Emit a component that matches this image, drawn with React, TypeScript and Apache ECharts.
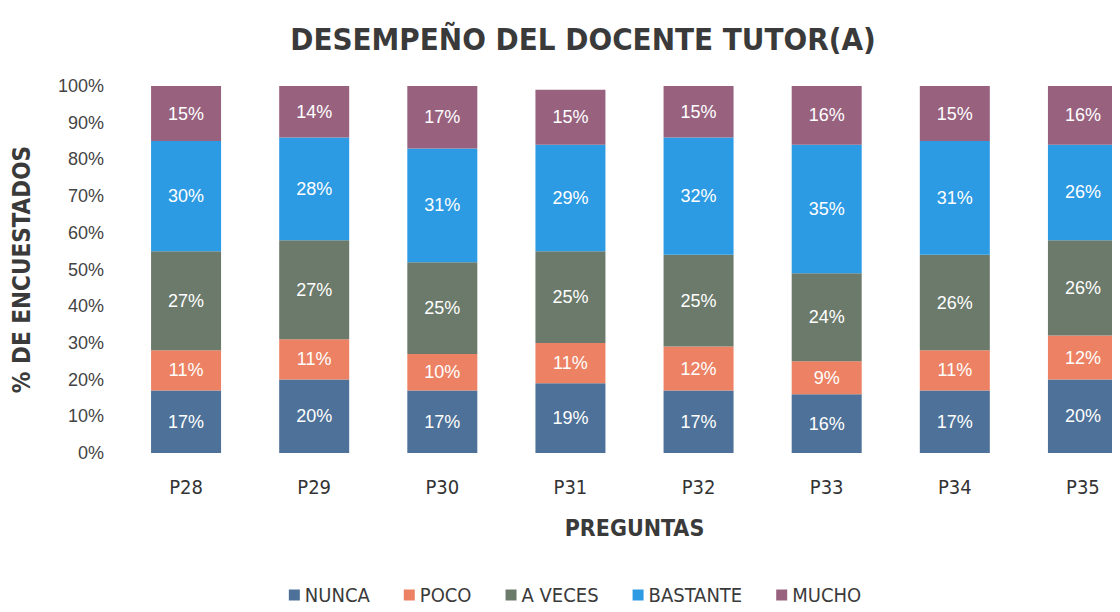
import React, { useEffect, useRef } from "react";
import * as echarts from "echarts";

const categories = ["P28", "P29", "P30", "P31", "P32", "P33", "P34", "P35"];
const nunca = [17, 20, 17, 19, 17, 16, 17, 20];
const poco = [11, 11, 10, 11, 12, 9, 11, 12];
const aveces = [27, 27, 25, 25, 25, 24, 26, 26];
const bastante = [30, 28, 31, 29, 32, 35, 31, 26];
const mucho = [15, 14, 17, 15, 15, 16, 15, 16];

const seriesDefs = [
  { name: "NUNCA", data: nunca, color: "#4d7198" },
  { name: "POCO", data: poco, color: "#ec8263" },
  { name: "A VECES", data: aveces, color: "#6b7a6b" },
  { name: "BASTANTE", data: bastante, color: "#2d9be3" },
  { name: "MUCHO", data: mucho, color: "#98627f" },
];

const COND = "'DejaVu Sans Condensed', 'Liberation Sans', sans-serif";
const SANS = "'Liberation Sans', Arial, sans-serif";

export default function App() {
  const ref = useRef<HTMLDivElement>(null);
  useEffect(() => {
    if (!ref.current) return;
    const chart = echarts.init(ref.current, null, { renderer: "svg" });
    chart.setOption({
      animation: false,
      backgroundColor: "#ffffff",
      title: {
        text: "DESEMPEÑO DEL DOCENTE TUTOR(A)",
        left: 578,
        top: 18,
        textAlign: "center",
        textStyle: {
          fontFamily: COND,
          fontWeight: "bold",
          fontSize: 31,
          color: "#3a3a3a",
        },
      },
      legend: {
        bottom: 40,
        left: "center",
        itemWidth: 11,
        itemHeight: 11,
        itemGap: 34,
        icon: "rect",
        textStyle: {
          fontFamily: COND,
          fontSize: 20,
          color: "#3a3a3a",
        },
      },
      grid: {
        left: 122,
        width: 1025,
        top: 86,
        height: 367,
        containLabel: false,
      },
      xAxis: {
        type: "category",
        data: categories,
        axisLine: { show: false },
        axisTick: { show: false },
        axisLabel: {
          margin: 24,
          fontFamily: COND,
          fontSize: 20,
          color: "#333",
        },
        name: "PREGUNTAS",
        nameLocation: "middle",
        nameGap: 63,
        nameTextStyle: {
          fontFamily: COND,
          fontWeight: "bold",
          fontSize: 23,
          color: "#3a3a3a",
        },
      },
      yAxis: {
        type: "value",
        min: 0,
        max: 100,
        interval: 10,
        axisLine: { show: false },
        axisTick: { show: false },
        splitLine: { show: false },
        axisLabel: {
          formatter: "{value}%",
          margin: 18,
          fontFamily: SANS,
          fontSize: 18,
          color: "#444",
        },
        name: "% DE ENCUESTADOS",
        nameLocation: "middle",
        nameGap: 88,
        nameTextStyle: {
          fontFamily: COND,
          fontWeight: "bold",
          fontSize: 24,
          color: "#3a3a3a",
        },
      },
      series: seriesDefs.map((s) => ({
        name: s.name,
        type: "bar",
        stack: "total",
        barWidth: 70,
        data: s.data,
        itemStyle: { color: s.color },
        label: {
          show: true,
          position: "inside",
          formatter: "{c}%",
          color: "#ffffff",
          fontFamily: SANS,
          fontSize: 18,
        },
      })),
    });
    return () => chart.dispose();
  }, []);
  return (
    <div style={{ width: 1120, height: 612, margin: -8, overflow: "hidden" }}>
      <div ref={ref} style={{ width: 1150, height: 650 }} />
    </div>
  );
}
